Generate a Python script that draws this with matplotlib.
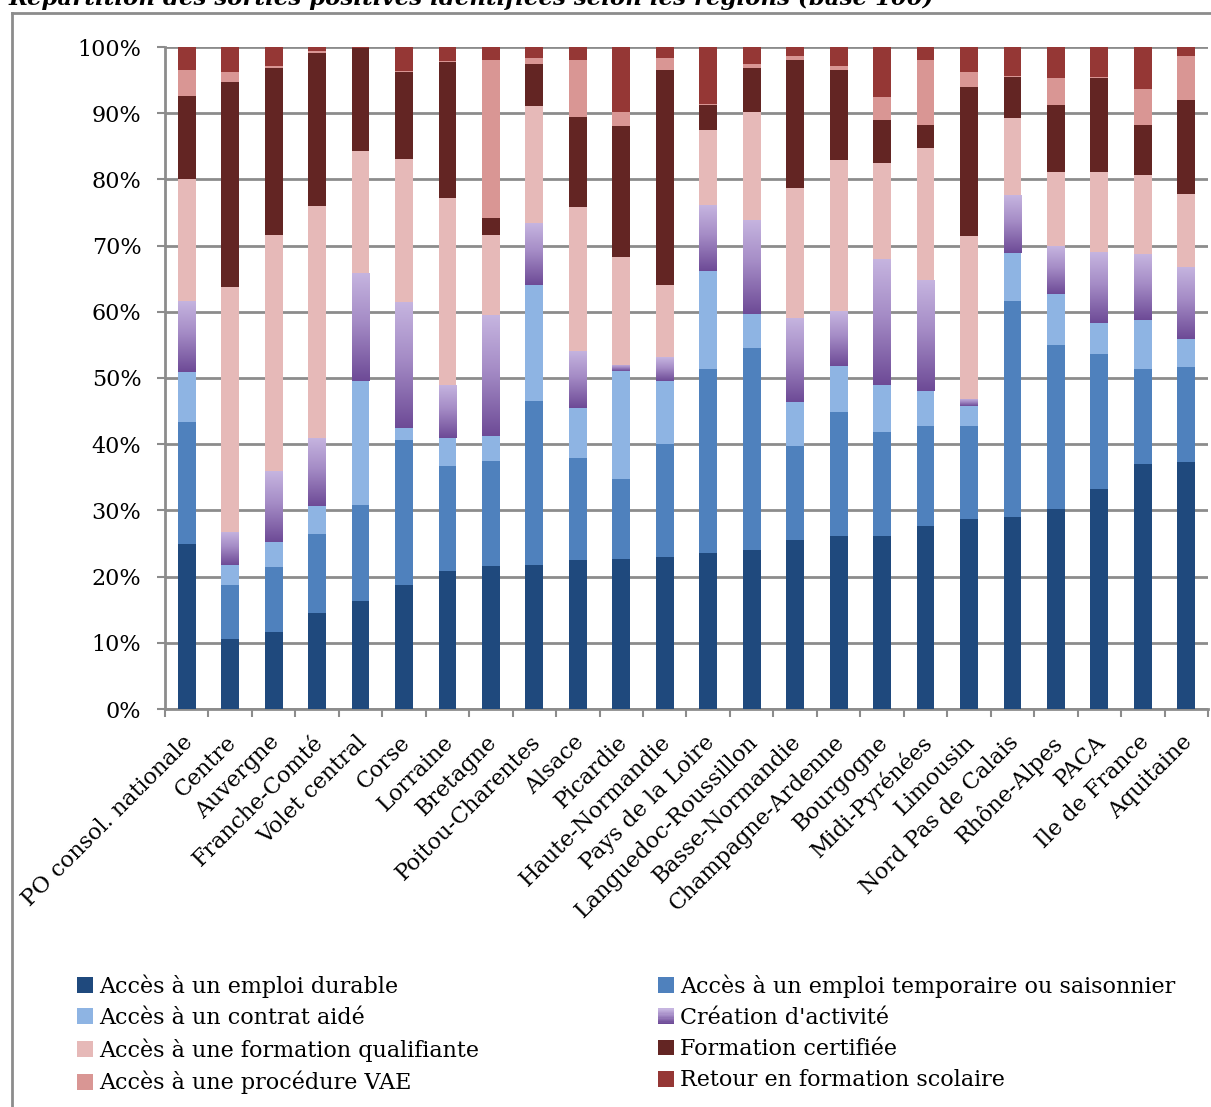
import numpy as np
import matplotlib
matplotlib.use('Agg')
import matplotlib.pyplot as plt
from matplotlib.patches import Rectangle
from matplotlib.lines import Line2D
from matplotlib.colors import LinearSegmentedColormap
from matplotlib.legend_handler import HandlerBase
from matplotlib.transforms import ScaledTranslation

# Régions (axe des abscisses)
regions = ['PO consol. nationale', 'Centre', 'Auvergne', 'Franche-Comté', 'Volet central',
           'Corse', 'Lorraine', 'Bretagne', 'Poitou-Charentes', 'Alsace', 'Picardie',
           'Haute-Normandie', 'Pays de la Loire', 'Languedoc-Roussillon', 'Basse-Normandie',
           'Champagne-Ardenne', 'Bourgogne', 'Midi-Pyrénées', 'Limousin', 'Nord Pas de Calais',
           'Rhône-Alpes', 'PACA', 'Ile de France', 'Aquitaine']

# Répartition en % (base 100) par type de sortie
emploi_durable = [25.0, 10.5, 11.7, 14.5, 16.3, 18.7, 20.8, 21.6, 21.7, 22.5, 22.6, 22.9,
                  23.5, 24.0, 25.5, 26.1, 26.2, 27.6, 28.7, 29.0, 30.2, 33.2, 37.0, 37.3]
emploi_temporaire = [18.3, 8.3, 9.7, 11.9, 14.5, 21.9, 15.9, 15.8, 24.9, 15.4, 12.2, 17.2,
                     27.9, 30.6, 14.3, 18.7, 15.7, 15.1, 14.0, 32.7, 24.8, 20.5, 14.4, 14.4]
contrat_aide = [7.6, 2.9, 3.8, 4.2, 18.7, 1.8, 4.2, 3.9, 17.5, 7.5, 16.2, 9.4,
                14.8, 5.1, 6.5, 7.0, 7.0, 5.3, 3.0, 7.2, 7.7, 4.6, 7.4, 4.2]
creation_activite = [10.8, 5.0, 10.7, 10.3, 16.4, 19.1, 8.1, 18.2, 9.3, 8.7, 1.0, 3.6,
                     9.9, 14.2, 12.7, 8.3, 19.1, 16.8, 1.2, 8.7, 7.2, 10.7, 9.9, 10.9]
formation_qualifiante = [18.3, 37.1, 35.7, 35.1, 18.4, 21.6, 28.2, 12.1, 17.7, 21.7, 16.3, 11.0,
                         11.3, 16.3, 19.7, 22.8, 14.5, 19.9, 24.6, 11.6, 11.2, 12.1, 12.0, 11.0]
formation_certifiee = [12.6, 30.9, 25.3, 23.1, 15.5, 13.1, 20.6, 2.6, 6.4, 13.7, 19.7, 32.5,
                       3.8, 6.7, 19.4, 13.6, 6.4, 3.5, 22.4, 6.2, 10.1, 14.2, 7.5, 14.2]
procedure_vae = [4.0, 1.5, 0.3, 0.25, 0.0, 0.2, 0.15, 23.8, 0.8, 8.6, 2.2, 1.7,
                 0.15, 0.6, 0.5, 0.7, 3.5, 9.9, 2.3, 0.2, 4.1, 0.1, 5.4, 6.7]
retour_scolaire = [3.4, 3.8, 2.8, 0.65, 0.2, 3.65, 2.05, 2.05, 1.7, 1.9, 9.8, 1.7,
                   8.65, 2.5, 1.4, 2.8, 7.6, 1.9, 3.8, 4.4, 4.7, 4.6, 6.4, 1.3]

series = [
    ("Accès à un emploi durable", emploi_durable, '#1f497d'),
    ("Accès à un emploi temporaire ou saisonnier", emploi_temporaire, '#4f81bd'),
    ("Accès à un contrat aidé", contrat_aide, '#8eb4e3'),
    ("Création d'activité", creation_activite, None),
    ("Accès à une formation qualifiante", formation_qualifiante, '#e6b9b8'),
    ("Formation certifiée", formation_certifiee, '#632523'),
    ("Accès à une procédure VAE", procedure_vae, '#d99694'),
    ("Retour en formation scolaire", retour_scolaire, '#953735'),
]

# dégradé vertical des barres "Création d'activité" (clair en haut, foncé en bas)
purple_cmap = LinearSegmentedColormap.from_list(
    'creation', [(0.0, '#6d4a96'), (0.55, '#a58cc6'), (1.0, '#c6b5e0')])

plt.rcParams['font.family'] = ['DejaVu Serif']
FS = 16

W, H = 1211, 1107
fig = plt.figure(figsize=(W / 100, H / 100), dpi=100)
ax = fig.add_axes([165 / W, 1 - 709 / H, (1208 - 165) / W, (709 - 47) / H])

x = np.arange(len(regions))
bar_w = 0.41
bottom = np.zeros(len(regions))
handles = []
for name, vals, color in series:
    vals = np.array(vals)
    if color is None:
        bars = ax.bar(x, vals, bar_w, bottom=bottom, color='none', linewidth=0, zorder=3)
        grad = np.linspace(0, 1, 256).reshape(-1, 1)
        for b in bars:
            x0, y0 = b.get_x(), b.get_y()
            im = ax.imshow(grad, cmap=purple_cmap, origin='lower', aspect='auto',
                           extent=(x0, x0 + b.get_width(), y0, y0 + b.get_height()),
                           zorder=3, interpolation='bilinear')
            im.set_clip_path(b)
        handles.append(Rectangle((0, 0), 1, 1, facecolor='#a58cc6'))
    else:
        bars = ax.bar(x, vals, bar_w, bottom=bottom, color=color, linewidth=0, zorder=3)
        handles.append(Rectangle((0, 0), 1, 1, facecolor=color))
    bottom += vals

ax.set_xlim(-0.5, len(regions) - 0.5)
ax.set_ylim(0, 100)
ax.set_yticks(np.arange(0, 101, 10))
ax.set_yticklabels([f'{v}%' for v in range(0, 101, 10)], fontsize=FS)
ax.yaxis.grid(True, color='#8c8c8c', linewidth=2.0, zorder=1)
ax.tick_params(axis='y', length=6, width=1.5, color='#8c8c8c', pad=11)

ax.set_xticks(x)
ax.set_xticklabels(regions, rotation=45, ha='right', va='top',
                   rotation_mode='anchor', fontsize=FS)
ax.tick_params(axis='x', which='major', length=0, pad=16)
for lbl in ax.get_xticklabels():
    lbl.set_transform(lbl.get_transform() + ScaledTranslation(-5 / 100, 0, fig.dpi_scale_trans))
ax.set_xticks(np.arange(-0.5, len(regions), 1), minor=True)
ax.tick_params(axis='x', which='minor', length=6, width=1.5, color='#8c8c8c', direction='out')

for side in ['top', 'right']:
    ax.spines[side].set_visible(False)
for side in ['left', 'bottom']:
    ax.spines[side].set_color('#8c8c8c')
    ax.spines[side].set_linewidth(2.0)


class GradientHandler(HandlerBase):
    def create_artists(self, legend, orig_handle, xdescent, ydescent, width, height,
                       fontsize, trans):
        n = 12
        out = []
        for i in range(n):
            r = Rectangle((-xdescent, -ydescent + height * i / n), width, height / n + 0.3,
                          facecolor=purple_cmap(i / (n - 1)), linewidth=0, transform=trans)
            out.append(r)
        return out


labels = [s[0] for s in series]
leg_kw = dict(frameon=False, fontsize=FS, handlelength=0.7, handleheight=0.7,
              handletextpad=0.3, labelspacing=0.42, borderaxespad=0, borderpad=0,
              handler_map={handles[3]: GradientHandler()})
fig.legend([handles[i] for i in (0, 2, 4, 6)], [labels[i] for i in (0, 2, 4, 6)],
           loc='upper left', bbox_to_anchor=(77 / W, 1 - 974 / H), **leg_kw)
fig.legend([handles[i] for i in (1, 3, 5, 7)], [labels[i] for i in (1, 3, 5, 7)],
           loc='upper left', bbox_to_anchor=(658 / W, 1 - 974 / H), **leg_kw)

# cadre du graphique et titre
fig.add_artist(Line2D([12 / W, 12 / W], [0, 1 - 13 / H], color='#8c8c8c', linewidth=2))
fig.add_artist(Line2D([12 / W, 1], [1 - 13 / H, 1 - 13 / H], color='#8c8c8c', linewidth=2))
fig.text(9 / W, 1 - 5 / H, "Répartition des sorties positives identifiées selon les régions (base 100)",
         fontsize=16.5, fontweight='bold', fontstyle='italic', ha='left', va='baseline')

fig.savefig('out.png', dpi=100)
